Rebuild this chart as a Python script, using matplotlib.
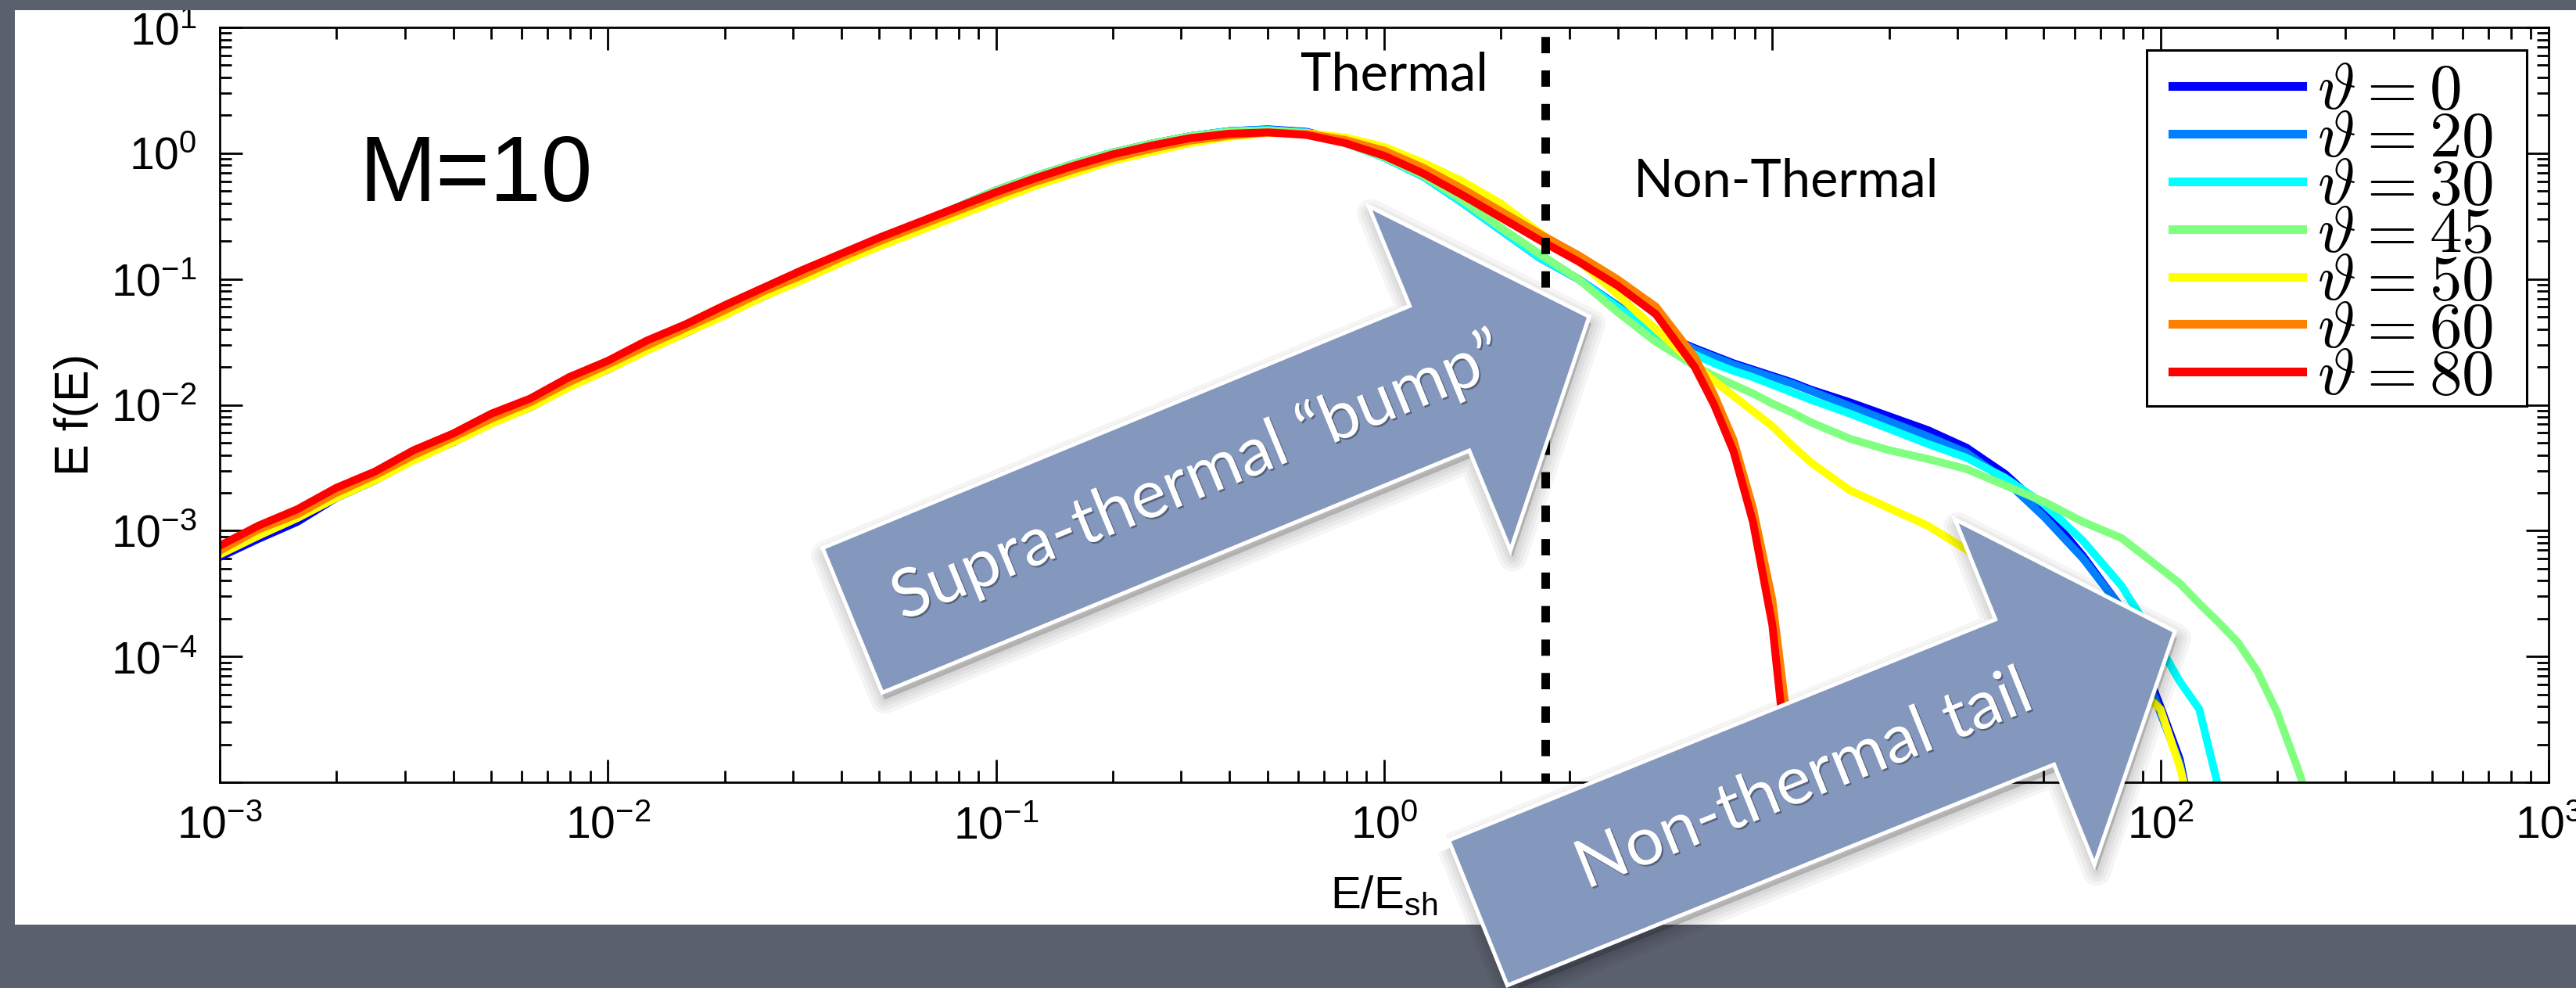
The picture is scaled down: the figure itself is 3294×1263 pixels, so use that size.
import numpy as np
import matplotlib
matplotlib.use("Agg")
import matplotlib.pyplot as plt
import matplotlib.patheffects as pe
from matplotlib.patches import Polygon, Rectangle
from matplotlib.ticker import FixedLocator, LogLocator, FuncFormatter, NullFormatter

# --- data (log10 values) ---
log_energy = [-3.0, -2.9, -2.8, -2.7, -2.6, -2.5, -2.4, -2.3, -2.2, -2.1,
              -2.0, -1.9, -1.8, -1.7, -1.6, -1.5, -1.4, -1.3, -1.2, -1.1,
              -1.0, -0.9, -0.8, -0.7, -0.6, -0.5, -0.4, -0.3, -0.2, -0.1,
              0.0, 0.1, 0.2, 0.3, 0.4, 0.5, 0.6, 0.7, 0.8, 0.85,
              0.9, 0.95, 1.0, 1.05, 1.1, 1.2, 1.3, 1.4, 1.5, 1.6,
              1.7, 1.8, 1.9, 2.0, 2.05, 2.1, 2.15, 2.2, 2.25, 2.3,
              2.35, 2.4]

log_f_0 = [-3.21, -3.065, -2.93, -2.74, -2.60, -2.43, -2.30, -2.14, -2.02, -1.85,
           -1.72, -1.56, -1.43, -1.28, -1.14, -1.00, -0.85, -0.70, -0.56, -0.43,
           -0.295, -0.185, -0.085, 0.005, 0.075, 0.135, 0.175, 0.19, 0.17, 0.09,
           -0.03, -0.18, -0.39, -0.61, -0.83, -1.00, -1.21, -1.42, -1.55, -1.61,
           -1.67, -1.72, -1.77, -1.82, -1.88, -1.98, -2.09, -2.20, -2.34, -2.55,
           -2.83, -3.20, -3.62, -4.40, -4.82, -5.60]
log_f_20 = [-3.18, -3.02, -2.89, -2.72, -2.59, -2.42, -2.29, -2.13, -2.01, -1.84,
            -1.71, -1.55, -1.42, -1.27, -1.13, -0.99, -0.84, -0.70, -0.56, -0.43,
            -0.295, -0.185, -0.085, 0.005, 0.075, 0.135, 0.175, 0.185, 0.165, 0.085,
            -0.035, -0.185, -0.39, -0.61, -0.83, -1.00, -1.21, -1.42, -1.56, -1.62,
            -1.68, -1.73, -1.78, -1.83, -1.89, -2.01, -2.13, -2.25, -2.38, -2.60,
            -2.89, -3.22, -3.62, -4.45, -4.85, -5.60]
log_f_30 = [-3.17, -3.01, -2.88, -2.71, -2.58, -2.41, -2.28, -2.12, -2.00, -1.83,
            -1.70, -1.54, -1.41, -1.26, -1.12, -0.98, -0.84, -0.70, -0.56, -0.43,
            -0.295, -0.185, -0.085, 0.005, 0.075, 0.135, 0.175, 0.185, 0.165, 0.08,
            -0.035, -0.185, -0.39, -0.61, -0.83, -1.00, -1.22, -1.44, -1.60, -1.67,
            -1.73, -1.78, -1.84, -1.90, -1.96, -2.07, -2.19, -2.31, -2.42, -2.58,
            -2.79, -3.08, -3.44, -3.93, -4.20, -4.42, -5.05]
log_f_45 = [-3.17, -3.01, -2.88, -2.71, -2.58, -2.41, -2.28, -2.12, -2.00, -1.83,
            -1.70, -1.54, -1.41, -1.26, -1.12, -0.98, -0.84, -0.70, -0.56, -0.43,
            -0.295, -0.185, -0.085, 0.005, 0.075, 0.135, 0.17, 0.18, 0.16, 0.08,
            -0.03, -0.175, -0.37, -0.59, -0.80, -1.00, -1.26, -1.50, -1.69, -1.77,
            -1.84, -1.91, -1.99, -2.06, -2.14, -2.27, -2.36, -2.43, -2.51, -2.64,
            -2.77, -2.93, -3.06, -3.30, -3.42, -3.58, -3.73, -3.89, -4.12, -4.44,
            -4.86, -5.30]
log_f_50 = [-3.19, -3.04, -2.90, -2.74, -2.60, -2.44, -2.30, -2.15, -2.02, -1.86,
            -1.72, -1.57, -1.43, -1.29, -1.14, -1.01, -0.87, -0.74, -0.62, -0.50,
            -0.38, -0.26, -0.16, -0.06, 0.01, 0.08, 0.13, 0.16, 0.16, 0.125,
            0.05, -0.075, -0.22, -0.40, -0.63, -0.85, -1.12, -1.40, -1.68, -1.81,
            -1.93, -2.05, -2.17, -2.32, -2.46, -2.68, -2.82, -2.96, -3.15, -3.40,
            -3.65, -3.88, -4.12, -4.42, -4.88, -5.50]
log_f_60 = [-3.16, -2.99, -2.87, -2.70, -2.56, -2.40, -2.26, -2.11, -1.98, -1.82,
            -1.68, -1.53, -1.39, -1.25, -1.10, -0.97, -0.83, -0.70, -0.58, -0.46,
            -0.34, -0.23, -0.13, -0.04, 0.035, 0.10, 0.14, 0.165, 0.155, 0.105,
            0.02, -0.115, -0.28, -0.46, -0.64, -0.81, -1.00, -1.22, -1.62, -1.92,
            -2.28, -2.82, -3.55, -4.80, -6.0]
log_f_80 = [-3.12, -2.96, -2.83, -2.66, -2.53, -2.36, -2.23, -2.07, -1.95, -1.78,
            -1.65, -1.49, -1.36, -1.21, -1.07, -0.93, -0.80, -0.67, -0.55, -0.43,
            -0.31, -0.20, -0.10, -0.01, 0.06, 0.12, 0.155, 0.165, 0.145, 0.08,
            -0.02, -0.16, -0.33, -0.51, -0.69, -0.86, -1.05, -1.28, -1.70, -2.00,
            -2.37, -2.93, -3.75, -5.20]

angles = [0, 20, 30, 45, 50, 60, 80]
colors = ['#0000ff', '#0080ff', '#00ffff', '#80ff80', '#ffff00', '#ff8000', '#ff0000']
curves = [log_f_0, log_f_20, log_f_30, log_f_45, log_f_50, log_f_60, log_f_80]
E_boundary = 2.6

W, H = 3294, 1263
BG = '#5b606e'
ARROW_BLUE = '#8497bc'

plt.rcParams['font.family'] = ['Liberation Sans', 'DejaVu Sans']
plt.rcParams['axes.linewidth'] = 2


def pad(vals):
    return vals + [np.nan] * (len(log_energy) - len(vals))


fig = plt.figure(figsize=(W / 100, H / 100), dpi=100)
fig.patch.set_facecolor(BG)
fig.add_artist(Rectangle((19 / W, 1 - 1182 / H), 1, (1182 - 13) / H,
                         transform=fig.transFigure, fc='white', ec='none', zorder=-1))

ax = fig.add_axes([281 / W, 1 - 1000 / H, 2978 / W, 965 / H])
energy = 10 ** np.array(log_energy)
for ang, col, vals in zip(angles, colors, curves):
    ax.plot(energy, 10 ** np.array(pad(vals)), color=col, lw=7.2,
            solid_joinstyle='round', label=r'$\vartheta = %d$' % ang, zorder=2)

ax.axvline(E_boundary, color='black', lw=7.9, linestyle=(0.82, (1.9, 2.0)), zorder=3)

ax.set_xscale('log')
ax.set_yscale('log')
ax.set_xlim(1e-3, 1e3)
ax.set_ylim(1e-5, 1e1)

exp_fmt = lambda v, p: r'$\mathregular{10^{%d}}$' % round(np.log10(v))
ax.xaxis.set_major_locator(FixedLocator(10.0 ** np.arange(-3, 4)))
ax.xaxis.set_major_formatter(FuncFormatter(exp_fmt))
ax.yaxis.set_major_locator(FixedLocator(10.0 ** np.arange(-5, 2)))
ax.yaxis.set_major_formatter(FuncFormatter(
    lambda v, p: '' if round(np.log10(v)) == -5 else exp_fmt(v, p)))
for axis in (ax.xaxis, ax.yaxis):
    axis.set_minor_locator(LogLocator(base=10, subs=np.arange(2, 10), numticks=100))
    axis.set_minor_formatter(NullFormatter())
ax.tick_params(which='both', direction='in', top=True, right=True, width=2)
ax.tick_params(which='major', length=21, pad=21, labelsize=41)
ax.tick_params(which='minor', length=10.8)

ax.set_ylabel('E f(E)', fontsize=44)
ax.yaxis.set_label_coords(-0.052, 0.487)
ax.set_xlabel(r'E/E$_{\mathregular{sh}}$', fontsize=42)
ax.xaxis.set_label_coords(0.5, -0.122)

# legend with MATLAB-like box
ax.add_patch(Rectangle((2745 / W, 1 - 519 / H), (3231 - 2745) / W, (519 - 64) / H,
                       transform=fig.transFigure, fc='white', ec='black', lw=2.2, zorder=4.5))
leg = ax.legend(loc='upper left', bbox_to_anchor=(2778 / W, 1 - 78 / H),
                bbox_transform=fig.transFigure, frameon=False, fontsize=60,
                handlelength=1.99, handletextpad=0.23, labelspacing=-0.205,
                borderpad=0, borderaxespad=0)
for t in leg.get_texts():
    t.set_math_fontfamily('cm')
for ln in leg.get_lines():
    ln.set_linewidth(8)

# overlay in pixel coordinates for slide annotations
ov = fig.add_axes([0, 0, 1, 1], zorder=10)
ov.set_xlim(0, W)
ov.set_ylim(H, 0)
ov.set_facecolor('none')
ov.axis('off')
ov.add_patch(Rectangle((0, 0), W, 13, fc=BG, ec='none', zorder=1))

ov.text(459, 257, 'M=10', fontsize=85, ha='left', va='baseline')
ov.text(1783, 115, 'Thermal', fontsize=48, family='Lato', ha='center', va='baseline')
ov.text(2284, 251, 'Non-Thermal', fontsize=48, family='Lato', ha='center', va='baseline')

SHAFT, HEAD_W, HEAD_L = 100, 238, 207


def block_arrow(tail, angle, length, label, text_at):
    a = np.radians(angle)
    d = np.array([np.cos(a), -np.sin(a)])
    n = np.array([np.sin(a), np.cos(a)])
    uv = [(0, -SHAFT), (length - HEAD_L, -SHAFT), (length - HEAD_L, -HEAD_W),
          (length, 0), (length - HEAD_L, HEAD_W), (length - HEAD_L, SHAFT), (0, SHAFT)]
    pts = np.array([np.array(tail) + u * d + v * n for u, v in uv])
    sh = pts + np.array([3, 9])
    for lw in [26, 19, 12, 6]:
        ov.add_patch(Polygon(sh, closed=True, fc='none', ec='black', lw=lw,
                             alpha=0.04, joinstyle='round', zorder=2))
    ov.add_patch(Polygon(sh, closed=True, fc='black', ec='none', alpha=0.18, zorder=2))
    ov.add_patch(Polygon(pts, closed=True, fc=ARROW_BLUE, ec='white', lw=3.6,
                         joinstyle='miter', zorder=3))
    c = np.array(tail) + text_at * d
    ov.text(c[0], c[1], label, rotation=angle, rotation_mode='anchor',
            ha='center', va='center', color='white', fontsize=62, family='Lato',
            zorder=4,
            path_effects=[pe.withSimplePatchShadow(offset=(1.5, -1.5),
                                                   shadow_rgbFace='#2a3040', alpha=0.5)])


block_arrow((1090, 793), 22.4, 1019, 'Supra-thermal \u201cbump\u201d', 479)
block_arrow((1890, 1167), 22.0, 961, 'Non-thermal tail', 450)

fig.savefig('out.png', dpi=100, facecolor=fig.get_facecolor())
